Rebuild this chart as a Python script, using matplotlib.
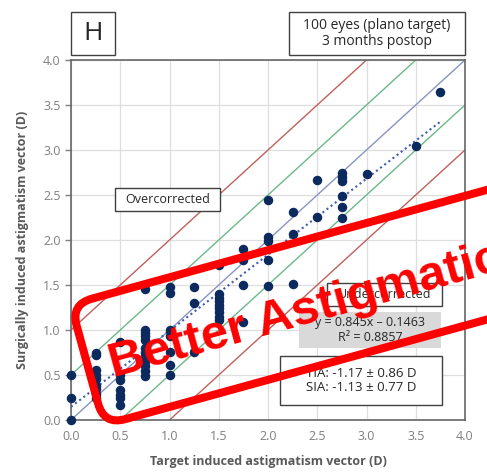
import matplotlib.pyplot as plt
import numpy as np
from matplotlib.patches import Rectangle, FancyBboxPatch
from matplotlib.transforms import Affine2D

plt.rcParams['font.family'] = ['Open Sans', 'DejaVu Sans']

# target induced astigmatism (TIA) and surgically induced astigmatism (SIA), in D
tia = ([0.0] * 3 + [0.25] * 9 + [0.5] * 7 + [0.75] * 12 + [1.0] * 7 + [1.25] * 3
       + [1.5] * 9 + [1.75] * 4 + [2.0] * 5 + [2.25] * 3 + [2.5] * 2 + [2.75] * 6
       + [3.0, 3.5, 3.75])
sia = ([0.0, 0.24, 0.5]
       + [0.75, 0.72, 0.56, 0.5, 0.46, 0.38, 0.34, 0.29, 0.24]
       + [0.87, 0.5, 0.44, 0.33, 0.28, 0.24, 0.17]
       + [1.46, 1.0, 0.97, 0.93, 0.89, 0.8, 0.75, 0.7, 0.65, 0.6, 0.55, 0.49]
       + [1.48, 1.41, 1.0, 0.93, 0.76, 0.61, 0.5]
       + [1.48, 1.3, 0.76]
       + [1.72, 1.4, 1.36, 1.32, 1.28, 1.24, 1.2, 1.15, 1.11]
       + [1.9, 1.78, 1.5, 1.09]
       + [2.44, 2.03, 1.99, 1.78, 1.49]
       + [2.31, 2.07, 1.51]
       + [2.67, 2.26]
       + [2.75, 2.7, 2.66, 2.49, 2.37, 2.25]
       + [2.73, 3.04, 3.64])

fit_slope = 0.845
fit_icpt = 0.1463
r_squared = 0.8857
tia_stats = (-1.17, 0.86)
sia_stats = (-1.13, 0.77)

ticks = np.arange(0, 4.01, 0.5)
ref_offsets = [1.0, 0.5, 0.0, -0.5, -1.0]
ref_colors = ['#c0605c', '#6cb88a', '#8a93c4', '#6cb88a', '#c0605c']

W, H = 487, 475
fig = plt.figure(figsize=(W / 100, H / 100), dpi=100)
ax = fig.add_axes([71 / W, 55 / H, 394 / W, 360 / H])

ax.set_xlim(0, 4)
ax.set_ylim(0, 4)
ax.set_xticks(ticks)
ax.set_yticks(ticks)
ax.set_xticklabels([f'{t:.1f}' for t in ticks])
ax.set_yticklabels([f'{t:.1f}' for t in ticks])
ax.grid(True, color='#dedede', lw=0.9)
ax.set_axisbelow(True)
ax.tick_params(colors='#7f7f7f', labelsize=9, length=4, width=1)
ax.tick_params(axis='x', length=0, pad=7)
for sp in ax.spines.values():
    sp.set_color('#666666')
    sp.set_linewidth(1.2)

# identity line with +/-0.5 D and +/-1.0 D bands
xs = np.array([0, 4])
for off, col in zip(ref_offsets, ref_colors):
    ax.plot(xs, xs + off, color=col, lw=1.0, zorder=2)

# regression line
fx = np.array([0, max(tia)])
ax.plot(fx, fit_slope * fx + fit_icpt, ls=(0, (1, 1.5)), color='#3f5fa8', lw=1.5, zorder=3)

ax.scatter(tia, sia, s=34, color='#0c2a5e', zorder=4, clip_on=False)

ax.set_xlabel('Target induced astigmatism vector (D)', color='#595959',
              fontsize=9, fontweight='bold', labelpad=9)
ax.set_ylabel('Surgically induced astigmatism vector (D)', color='#595959',
              fontsize=9, fontweight='bold', labelpad=10)


def box(x0, y0, x1, y1, text, size=9.5, face='white', edge='#404040'):
    # pixel coords measured from the top-left corner
    fig.patches.append(Rectangle((x0 / W, 1 - y1 / H), (x1 - x0) / W, (y1 - y0) / H,
                                 transform=fig.transFigure, facecolor=face,
                                 edgecolor=edge, lw=1.0, zorder=5))
    fig.text((x0 + x1) / 2 / W, 1 - (y0 + y1) / 2 / H, text, ha='center', va='center',
             fontsize=size, color='#262626', linespacing=1.15, zorder=6)


box(71, 12, 115, 55, 'H', size=19)
box(289, 12, 465, 55, '100 eyes (plano target)\n3 months postop', size=10)
box(115, 188, 220, 211, 'Overcorrected', size=9)
box(327, 283, 442, 306, 'Undercorrected', size=9)
box(299, 312, 441, 348,
    f'y = {fit_slope}x \u2013 {fit_icpt}\nR\u00b2 = {r_squared}',
    size=9, face='#d9d9d9', edge='none')
box(280, 356, 442, 405,
    f'TIA: {tia_stats[0]} \u00b1 {tia_stats[1]} D\nSIA: {sia_stats[0]} \u00b1 {sia_stats[1]} D',
    size=9.5)

# red stamp on top
angle = 15.4
stamp_tr = Affine2D().rotate_deg(angle).translate(104, 50)
fig.patches.append(FancyBboxPatch((0, 0), 620, 125,
                                  boxstyle='round,pad=0,rounding_size=22',
                                  transform=stamp_tr, facecolor='none',
                                  edgecolor='#ff0000', lw=5.8, zorder=10))
fig.text(113 / W, 98 / H, 'Better Astigmatic Outcome', rotation=angle,
         rotation_mode='anchor', ha='left', va='baseline', fontsize=35.5,
         fontweight='bold', color='#ff0000',
         family=['Liberation Sans', 'DejaVu Sans'], zorder=11)

fig.savefig('out.png', dpi=100)
